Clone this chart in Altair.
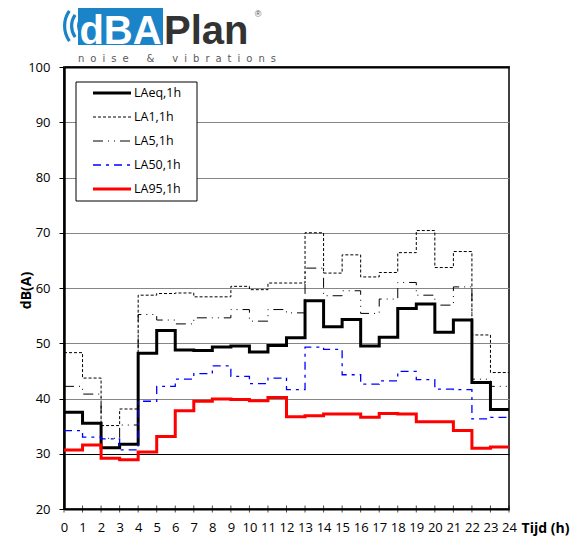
import altair as alt
import pandas as pd

# ---- data ----
hours = list(range(24))
series_names = ["LAeq,1h", "LA1,1h", "LA5,1h", "LA50,1h", "LA95,1h"]
laeq = [37.5, 35.5, 31.1, 31.7, 48.2, 52.3, 48.8, 48.7, 49.3, 49.5, 48.4, 49.6,
        51.0, 57.7, 53.0, 54.3, 49.5, 51.1, 56.3, 57.1, 52.0, 54.2, 42.9, 38.0]
la1 = [48.3, 43.7, 35.1, 38.1, 58.7, 59.0, 59.1, 58.4, 58.4, 60.3, 59.7, 60.9,
       60.9, 70.0, 62.7, 66.0, 62.0, 62.8, 66.4, 70.4, 63.7, 66.6, 51.5, 44.7]
la5 = [42.2, 40.8, 32.8, 35.2, 55.2, 54.2, 53.5, 54.6, 54.6, 56.1, 54.0, 56.1,
       55.5, 63.6, 58.6, 59.5, 55.4, 58.0, 61.0, 58.7, 56.9, 60.2, 43.5, 42.2]
la50 = [34.2, 33.0, 32.7, 30.7, 39.5, 42.2, 43.5, 44.5, 45.9, 44.0, 42.7, 43.7,
        41.6, 49.3, 48.9, 44.3, 42.6, 43.2, 44.9, 43.4, 41.7, 41.6, 36.3, 36.6]
la95 = [30.7, 31.6, 29.2, 28.9, 30.3, 33.1, 37.8, 39.5, 39.9, 39.8, 39.6, 40.2,
        36.7, 36.9, 37.2, 37.2, 36.6, 37.3, 37.2, 35.8, 35.8, 34.2, 31.0, 31.2]
x_ticks = list(range(25))
y_ticks = [20, 30, 40, 50, 60, 70, 80, 90, 100]

# ---- styles ----
colors = ["#000000", "#000000", "#000000", "#0000ff", "#ff0000"]
dashes = [[1, 0], [3, 2], [10, 5, 1, 5, 1, 5], [8, 5, 3, 5], [1, 0]]
widths = [3, 1, 1, 1.3, 3]

series_values = [laeq, la1, la5, la50, la95]
rows = []
for name, vals, w in zip(series_names, series_values, widths):
    for h, v in zip(hours, vals):
        rows.append({"series": name, "hour": h, "value": v, "w": w})
    # closing point so the last hourly step reaches hour 24
    rows.append({"series": name, "hour": 24, "value": vals[-1], "w": w})
df = pd.DataFrame(rows)

FONT = "Open Sans"
W, H = 445, 442

xscale = alt.Scale(domain=[0, 24], nice=False, zero=False)
yscale = alt.Scale(domain=[20, 100], nice=False, zero=False)
cscale = alt.Scale(domain=series_names, range=colors)
dscale = alt.Scale(domain=series_names, range=dashes)

xaxis = alt.Axis(values=x_ticks, title="Tijd (h)", grid=False, ticks=False,
                 tickSize=0, labelPadding=12, labelFontSize=13,
                 labelOverlap=False, labelFlush=False,
                 labelFont=FONT, labelColor="#000000",
                 domainColor="#000000", domainWidth=2,
                 titleX=481, titleY=19, titleAlign="center",
                 titleBaseline="middle", titleFontSize=14,
                 titleFont=FONT, titleFontWeight="bold",
                 titleColor="#000000")

lines = alt.Chart(df).mark_line(interpolate="step-after", strokeCap="butt",
                                strokeJoin="miter").encode(
    x=alt.X("hour:Q", scale=xscale, axis=xaxis),
    y=alt.Y("value:Q", scale=yscale,
            axis=alt.Axis(values=y_ticks, title="dB(A)", grid=True,
                          gridColor=alt.condition("datum.value == 30 || datum.value == 100",
                                                  alt.value("#000000"), alt.value("#868686")),
                          gridWidth=alt.condition("datum.value == 100",
                                                  alt.value(2), alt.value(1.2)),
                          tickSize=5, tickColor="#000000", labelPadding=9,
                          labelFontSize=13, labelFont=FONT, labelColor="#000000",
                          labelOverlap=False,
                          domainColor="#000000", domainWidth=2.5,
                          titleX=-38, titleY=223, titleAngle=270,
                          titleAlign="center", titleBaseline="middle",
                          titleFontSize=14, titleFont=FONT,
                          titleFontWeight="bold", titleColor="#000000")),
    color=alt.Color("series:N", scale=cscale, legend=None),
    strokeDash=alt.StrokeDash("series:N", scale=dscale, legend=None),
    strokeWidth=alt.StrokeWidth("w:Q", scale=None, legend=None),
    order=alt.Order("hour:Q"),
)

tick_df = pd.DataFrame({"hour": x_ticks})
xticks = alt.Chart(tick_df).mark_tick(orient="vertical", size=7, thickness=1,
                                      color="#000000").encode(
    x=alt.X("hour:Q", scale=xscale, axis=xaxis),
    y=alt.value(H),
)

# ---- legend (built from the series list) ----
leg_df = pd.DataFrame({"series": series_names, "w": widths,
                       "row": list(range(len(series_names)))})
leg_box = alt.Chart(pd.DataFrame({"k": [0]})).mark_rect(
    fill="#ffffff", stroke="#000000", strokeWidth=1).encode(
    x=alt.value(12), x2=alt.value(133), y=alt.value(15), y2=alt.value(134))
leg_base = alt.Chart(leg_df).transform_calculate(ly="26 + 24 * datum.row")
leg_lines = leg_base.mark_rule(strokeCap="butt").encode(
    x=alt.value(29), x2=alt.value(67),
    y=alt.Y("ly:Q", scale=None),
    color=alt.Color("series:N", scale=cscale, legend=None),
    strokeDash=alt.StrokeDash("series:N", scale=dscale, legend=None),
    strokeWidth=alt.StrokeWidth("w:Q", scale=None, legend=None),
)
leg_text = leg_base.mark_text(align="left", baseline="middle", fontSize=12.5,
                              font=FONT, color="#000000").encode(
    x=alt.value(70),
    y=alt.Y("ly:Q", scale=None),
    text="series:N",
)

# ---- logo ----
one = pd.DataFrame({"k": [0]})
BLUE = "#1b84c8"
logo_box = alt.Chart(one).mark_rect(color=BLUE).encode(
    x=alt.value(14), x2=alt.value(99), y=alt.value(-59), y2=alt.value(-22))
logo_dba = alt.Chart(one).mark_text(text="dBA", font="Liberation Sans", fontWeight="bold",
                                    fontSize=40, color="#ffffff", align="center",
                                    baseline="alphabetic").encode(
    x=alt.value(56.5), y=alt.value(-23))
logo_plan = alt.Chart(one).mark_text(text="Plan", font="Liberation Sans", fontWeight="bold",
                                     fontSize=40, color="#333333", align="left",
                                     baseline="alphabetic").encode(
    x=alt.value(100), y=alt.value(-23))
logo_r = alt.Chart(one).mark_text(text="®", font="Liberation Sans", fontSize=9,
                                  color="#555555", align="center",
                                  baseline="middle").encode(
    x=alt.value(194), y=alt.value(-53))
sp = "\u2002\u200a"
sub_text = sp.join(list("noise")) + sp * 3 + "&" + sp * 3 + sp.join(list("vibrations"))
logo_sub = alt.Chart(one).mark_text(text=sub_text, font="DejaVu Sans", fontSize=10,
                                    color="#5a5a5a", align="left",
                                    baseline="alphabetic").encode(
    x=alt.value(14), y=alt.value(-5))
waves = []
for r in [14, 21, 28]:
    waves.append(alt.Chart(one).mark_arc(theta=4.10, theta2=5.32, radius=r, radius2=r - 3.2,
                                         color=BLUE).encode(
        x=alt.value(27), y=alt.value(-41)))

chart = alt.layer(
    lines, xticks, leg_box, leg_lines, leg_text,
    *waves, logo_box, logo_dba, logo_plan, logo_r, logo_sub,
).properties(
    width=W, height=H,
    padding={"left": 56, "top": 59, "right": 70, "bottom": 30},
    autosize=alt.AutoSizeParams(type="none"),
).configure_view(
    stroke="#404040", strokeWidth=2
)

chart.save("out.html", embed_options={"renderer": "svg", "actions": False})
